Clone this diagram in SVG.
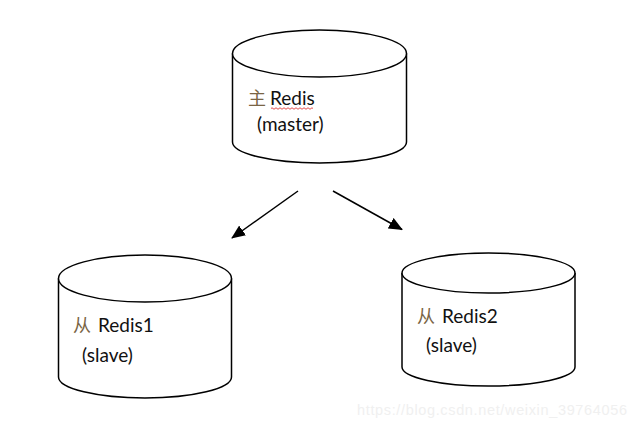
<svg xmlns="http://www.w3.org/2000/svg" width="637" height="429" viewBox="0 0 637 429">
<style>
.cyl{fill:#fff;stroke:#000;stroke-width:1.5}
.t{font-family:Lato,"Noto Sans CJK SC",sans-serif;font-size:19px;fill:#111}
.cjk{font-family:"Noto Sans CJK SC",sans-serif;font-size:18px;fill:#7a6545}
.conn{stroke:#000;stroke-width:1.5;fill:none}
.wm{font-family:"Liberation Sans",Arial,sans-serif;font-size:14.5px;fill:#f0f0f0}
</style>
<defs>
<marker id="ah" markerUnits="userSpaceOnUse" markerWidth="14" markerHeight="12" refX="13" refY="6" orient="auto">
<path d="M0,0 L14,6 L0,12 Z" fill="#000"/>
</marker>
</defs>
<rect width="637" height="429" fill="#fff"/>
<g id="master">
<path class="cyl" d="M232.5,53.5 V142 A87,21 0 0 0 406.5,142 V53.5"/>
<ellipse class="cyl" cx="319.5" cy="53.5" rx="87" ry="23.5"/>
<text class="cjk" x="248" y="105">主</text>
<text class="t" x="270" y="105">Redis</text>
<path d="M271,108.5 q1,-1.5 2,0 t2,0 t2,0 t2,0 t2,0 t2,0 t2,0 t2,0 t2,0 t2,0 t2,0 t2,0 t2,0 t2,0 t2,0 t2,0 t2,0 t2,0 t2,0 t2,0 t2,0" stroke="#d22" stroke-width="0.8" fill="none"/>
<text class="t" x="257" y="131">(master)</text>
</g>
<g id="slave1">
<path class="cyl" d="M58.5,278.5 V377 A86.5,21 0 0 0 231.5,377 V278.5"/>
<ellipse class="cyl" cx="145" cy="278.5" rx="86.5" ry="23.5"/>
<text class="cjk" x="73" y="332">从</text>
<text class="t" x="98" y="332">Redis1</text>
<text class="t" x="82" y="362">(slave)</text>
</g>
<g id="slave2">
<path class="cyl" d="M402,273 V367 A86.5,19 0 0 0 575,367 V273"/>
<ellipse class="cyl" cx="488.5" cy="273" rx="86.5" ry="20"/>
<text class="cjk" x="417" y="323">从</text>
<text class="t" x="442" y="323">Redis2</text>
<text class="t" x="426" y="352">(slave)</text>
</g>
<g id="connectors">
<line class="conn" x1="298" y1="191" x2="232" y2="238" marker-end="url(#ah)"/>
<line class="conn" x1="333" y1="191" x2="402" y2="229.5" marker-end="url(#ah)"/>
</g>
<text class="wm" x="357" y="415" textLength="270">https://blog.csdn.net/weixin_39764056</text>
</svg>
